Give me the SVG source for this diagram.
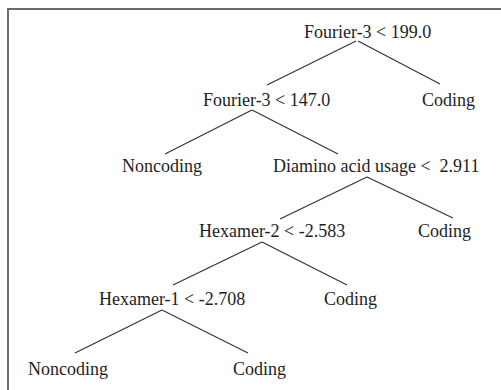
<svg xmlns="http://www.w3.org/2000/svg" width="501" height="390" viewBox="0 0 501 390">
<style>
text{font-family:"Liberation Serif","Times New Roman",serif;font-size:18px;fill:#1e1e1e;white-space:pre}
.e line{stroke:#333;stroke-width:1.2}
.frame{stroke:#6b6b6b;stroke-width:2;fill:none}
</style>
<rect width="501" height="390" fill="#fff"/>
<path class="frame" d="M8,390 V9 H501"/>
<g class="e" id="connectors">
<line x1="356" y1="41" x2="267" y2="85"/>
<line x1="358" y1="41" x2="440" y2="84"/>
<line x1="252" y1="110" x2="165" y2="154"/>
<line x1="252" y1="110" x2="338" y2="154"/>
<line x1="367" y1="177" x2="280" y2="219"/>
<line x1="367" y1="177" x2="453" y2="218"/>
<line x1="262" y1="242" x2="173" y2="285"/>
<line x1="262" y1="242" x2="347" y2="285"/>
<line x1="162" y1="310" x2="75" y2="353"/>
<line x1="162" y1="310" x2="248" y2="353"/>
</g>
<g id="n1"><text x="304" y="38">Fourier-3 &lt; 199.0</text></g>
<g id="n2"><text x="203" y="106">Fourier-3 &lt; 147.0</text></g>
<g id="n3"><text x="422" y="106">Coding</text></g>
<g id="n4"><text x="122" y="172">Noncoding</text></g>
<g id="n5"><text x="273" y="172" xml:space="preserve">Diamino acid usage &lt;  2.911</text></g>
<g id="n6"><text x="199" y="237">Hexamer-2 &lt; -2.583</text></g>
<g id="n7"><text x="418" y="237">Coding</text></g>
<g id="n8"><text x="99" y="305">Hexamer-1 &lt; -2.708</text></g>
<g id="n9"><text x="324" y="305">Coding</text></g>
<g id="n10"><text x="28" y="375">Noncoding</text></g>
<g id="n11"><text x="233" y="375">Coding</text></g>
</svg>
